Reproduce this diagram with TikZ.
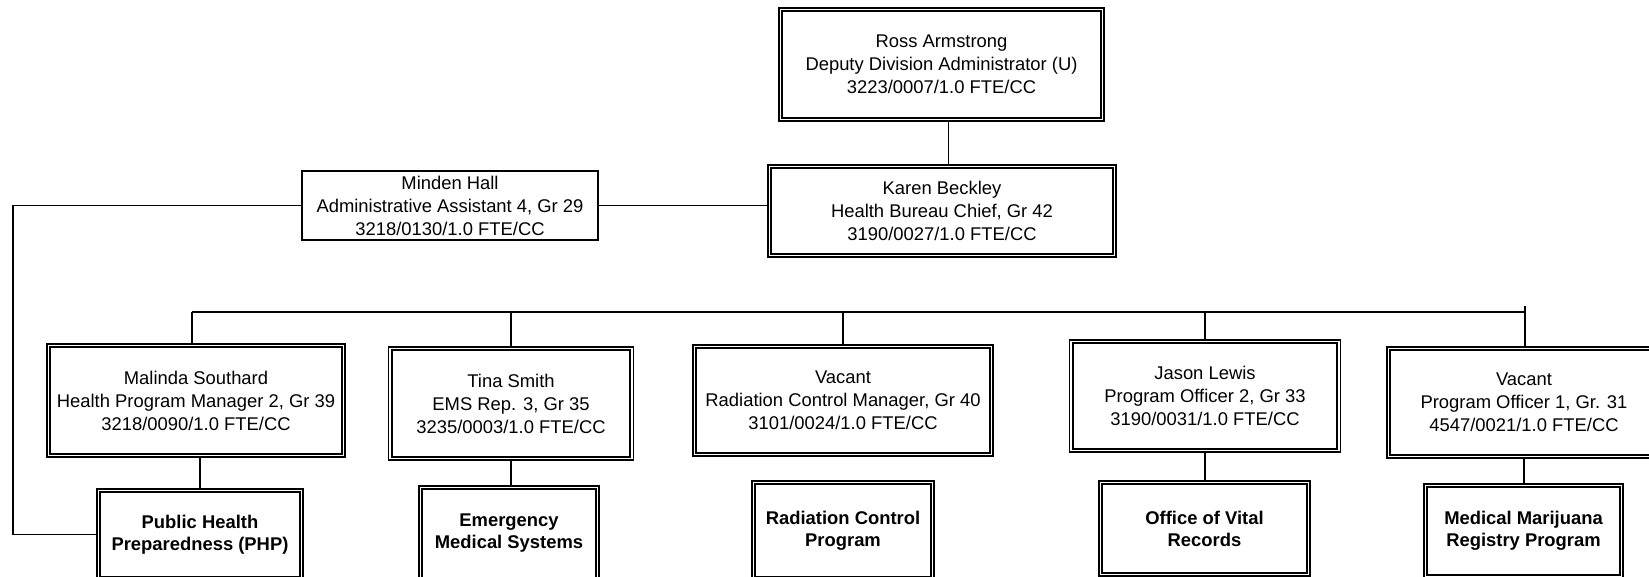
\documentclass[tikz,border=0pt]{standalone}
\usepackage{fontspec}
\setmainfont{Liberation Sans}
\begin{document}
\begin{tikzpicture}[x=0.5pt,y=-0.5pt,
  box/.style={draw, line width=0.6pt, inner sep=0pt, align=center, font=\fontsize{9.2}{11.5}\selectfont},
  prog/.style={box, font=\fontsize{9.2}{11}\selectfont\bfseries},
  conn/.style={line width=0.8pt},
  innerframe/.style={line width=1pt}]
\clip (0,0) rectangle (1649,577);
\fill[white] (0,0) rectangle (1649,577);

\node[box, minimum width=162.5pt, minimum height=56.5pt] (ross) at (941.5,64.5) {Ross Armstrong\\Deputy Division Administrator (U)\\3223/0007/1.0 FTE/CC};
\node[box, minimum width=174pt, minimum height=46pt] (karen) at (942,211) {Karen Beckley\\Health Bureau Chief, Gr 42\\3190/0027/1.0 FTE/CC};
\node[box, minimum width=148pt, minimum height=34.5pt] (minden) at (450,205.5) {Minden Hall\\Administrative Assistant 4, Gr 29\\3218/0130/1.0 FTE/CC};

\node[box, minimum width=149pt, minimum height=56.5pt] (malinda) at (196,400.5) {Malinda Southard\\Health Program Manager 2, Gr 39\\3218/0090/1.0 FTE/CC};
\node[box, minimum width=122.5pt, minimum height=56.5pt] (tina) at (511,403.5) {Tina Smith\\EMS Rep. 3, Gr 35\\3235/0003/1.0 FTE/CC};
\node[box, minimum width=150pt, minimum height=55.5pt] (rad) at (843,400.5) {Vacant\\Radiation Control Manager, Gr 40\\3101/0024/1.0 FTE/CC};
\node[box, minimum width=135.5pt, minimum height=56pt] (jason) at (1205,396) {Jason Lewis\\Program Officer 2, Gr 33\\3190/0031/1.0 FTE/CC};
\node[box, minimum width=137pt, minimum height=55.5pt] (vac) at (1524,402.5) {Vacant\\Program Officer 1, Gr. 31\\4547/0021/1.0 FTE/CC};

\node[prog, minimum width=103pt, minimum height=45.5pt] (php) at (200,534.5) {Public Health\\Preparedness (PHP)};
\node[prog, minimum width=90pt, minimum height=47.5pt] (ems) at (509,533.5) {Emergency\\Medical Systems};
\node[prog, minimum width=91pt, minimum height=49.5pt] (rcp) at (843,530.5) {Radiation Control\\Program};
\node[prog, minimum width=105.5pt, minimum height=47.5pt] (vital) at (1204.5,528.5) {Office of Vital\\Records};
\node[prog, minimum width=99.5pt, minimum height=47pt] (mar) at (1523.5,531) {Medical Marijuana\\Registry Program};

\foreach \n in {ross,karen,malinda,tina,rad,jason,vac,php,ems,rcp,vital,mar}
  \draw[innerframe] ([xshift=2pt,yshift=-2pt]\n.north west) rectangle ([xshift=-2pt,yshift=2pt]\n.south east);

% connectors
\coordinate (rk) at ([xshift=3.5pt]ross.south);
\draw[conn] (rk) -- (rk |- karen.north);
\draw[conn] (minden.east) -- (minden.east -| karen.west);
\coordinate (lc) at (13,400);
\draw[conn] (minden.west) -| (lc) |- (php.west);

\coordinate (busL) at (192,312);
\coordinate (busR) at (1525,312);
\coordinate (busRt) at (1525,306);
\draw[conn] (busL) -- (busR);
\draw[conn] (busL) -- (busL |- malinda.north);
\draw[conn] (tina.north |- busL) -- (tina.north);
\draw[conn] (rad.north |- busL) -- (rad.north);
\draw[conn] (jason.north |- busL) -- (jason.north);
\draw[conn] (busRt) -- (busRt |- vac.north);

\draw[conn] (php.north |- malinda.south) -- (php.north);
\draw[conn] (tina.south) -- (tina.south |- ems.north);
\draw[conn] (jason.south) -- (jason.south |- vital.north);
\draw[conn] (vac.south) -- (vac.south |- mar.north);
\end{tikzpicture}
\end{document}
